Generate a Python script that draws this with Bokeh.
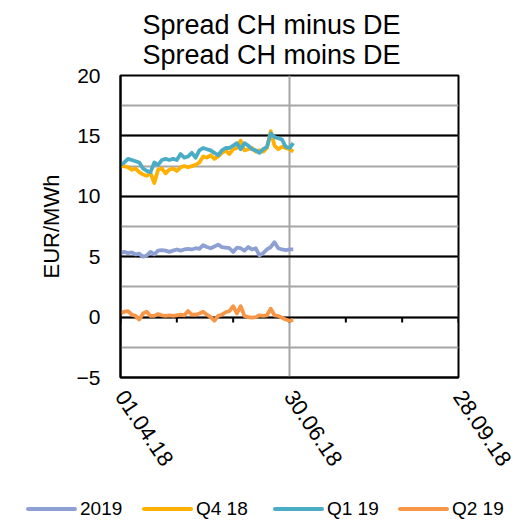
import pandas as pd
from bokeh.plotting import figure
from bokeh.layouts import column
from bokeh.models import (FixedTicker, SingleIntervalTicker, DatetimeTickFormatter,
                          Range1d, Title, ColumnDataSource, Div)
from bokeh.embed import file_html
from bokeh.resources import INLINE

# ---------------- data ----------------
title_text = "Spread CH minus DE\nSpread CH moins DE"
y_label = "EUR/MWh"
x_start = "2018-04-01"
x_end = "2018-09-28"
x_tick_dates = ["2018-04-01", "2018-06-30", "2018-09-28"]
x_minor_tick_dates = ["2018-04-01", "2018-05-01", "2018-05-31", "2018-06-30",
                      "2018-07-30", "2018-08-29", "2018-09-28"]
series_names = ["2019", "Q4 18", "Q1 19", "Q2 19"]

obs_dates = pd.date_range("2018-04-01", periods=47, freq="2D")

y2019 = [5.3, 5.4, 5.3, 5.35, 5.2, 5.25, 5.0, 5.1, 5.4, 5.2,
         5.5, 5.55, 5.5, 5.4, 5.5, 5.6, 5.5, 5.6, 5.65, 5.6,
         5.7, 5.65, 5.95, 5.8, 5.7, 5.85, 6.0, 5.8, 5.75, 5.7,
         5.4, 5.75, 5.7, 5.5, 5.8, 5.6, 5.7, 5.1, 5.3, 5.6,
         5.8, 6.2, 5.7, 5.6, 5.55, 5.6, 5.6]

q4_18 = [12.5, 12.5, 12.4, 12.2, 12.3, 12.0, 11.8, 11.7, 11.9, 11.1,
         12.2, 12.3, 11.9, 12.2, 12.3, 12.1, 12.4, 12.5, 12.4, 12.5,
         12.6, 12.8, 13.3, 13.2, 13.4, 13.1, 13.3, 13.6, 13.8, 13.5,
         13.9, 14.0, 14.6, 13.8, 13.9, 14.0, 13.7, 13.8, 13.7, 14.0,
         15.4, 14.2, 13.9, 14.1, 14.0, 13.9, 13.7]

q1_19 = [12.6, 12.8, 13.1, 13.0, 12.9, 12.8, 12.3, 12.1, 12.0, 12.8,
         12.6, 13.0, 13.1, 13.0, 13.1, 13.0, 13.5, 13.2, 13.3, 13.6,
         13.2, 13.8, 14.0, 13.9, 13.8, 13.6, 13.4, 13.8, 14.0, 14.0,
         14.2, 14.4, 13.9, 14.4, 14.2, 13.9, 13.8, 13.6, 13.9, 14.1,
         15.2, 14.9, 14.8, 14.7, 14.1, 14.0, 14.4]

q2_19 = [0.3, 0.45, 0.5, 0.2, 0.1, -0.2, 0.3, 0.45, 0.1, 0.1,
         0.25, 0.15, 0.1, 0.15, 0.1, 0.15, 0.2, 0.15, 0.5, 0.2,
         0.2, 0.3, 0.45, 0.2, 0.0, -0.3, 0.1, 0.2, 0.4, 0.5,
         0.9, 0.3, 0.9, 0.1, 0.0, -0.05, 0.0, 0.15, 0.1, 0.15,
         0.7, 0.15, 0.1, -0.05, -0.2, -0.3, -0.25]

colors = ["#8EA0D3", "#FFB000", "#4BACC6", "#F79646"]
FONT = "Liberation Sans"

# ---------------- main figure ----------------
p = figure(frame_width=338, frame_height=302, width=518, height=495,
           x_axis_type="datetime", output_backend="svg", toolbar_location=None,
           min_border_left=120, min_border_right=60, min_border_top=75,
           min_border_bottom=118)
p.x_range = Range1d(pd.Timestamp(x_start), pd.Timestamp(x_end))
p.y_range = Range1d(-5, 20)
p.background_fill_color = "white"
p.border_fill_color = "white"
p.outline_line_color = "black"
p.outline_line_width = 2

p.title = Title(text=title_text, align="left", offset=22, standoff=12,
                text_font=FONT, text_font_size="27px", text_font_style="normal",
                text_color="black")

tick_ms = [pd.Timestamp(d).value / 1e6 for d in x_tick_dates]
p.xaxis.ticker = FixedTicker(ticks=tick_ms)
p.xaxis.formatter = DatetimeTickFormatter(days="%d.%m.%y", months="%d.%m.%y",
                                          years="%d.%m.%y")
p.xaxis.major_label_orientation = -0.98
p.xaxis.major_tick_out = 0
p.xaxis.major_tick_in = 0
p.xaxis.minor_tick_out = 0
p.xaxis.minor_tick_in = 0
p.xaxis.major_label_standoff = 15
p.xaxis.axis_line_color = "black"
p.xaxis.axis_line_width = 2
p.xaxis.major_label_text_font = FONT
p.xaxis.major_label_text_font_size = "22px"
p.xaxis.major_label_text_color = "black"

p.yaxis.ticker = SingleIntervalTicker(interval=5, num_minor_ticks=2)
p.yaxis.major_tick_out = 0
p.yaxis.major_tick_in = 0
p.yaxis.minor_tick_out = 0
p.yaxis.minor_tick_in = 0
p.yaxis.major_label_standoff = 20
p.yaxis.axis_line_color = "black"
p.yaxis.axis_line_width = 2
p.yaxis.major_label_text_font = FONT
p.yaxis.major_label_text_font_size = "21px"
p.yaxis.major_label_text_color = "black"
p.yaxis.axis_label = y_label
p.yaxis.axis_label_text_font = FONT
p.yaxis.axis_label_text_font_size = "22px"
p.yaxis.axis_label_text_font_style = "normal"
p.yaxis.axis_label_text_color = "black"
p.yaxis.axis_label_standoff = 10

p.xgrid.ticker = FixedTicker(ticks=tick_ms)
p.xgrid.grid_line_color = "#A6A6A6"
p.xgrid.grid_line_width = 2
p.ygrid.grid_line_color = "black"
p.ygrid.grid_line_width = 2
p.ygrid.minor_grid_line_color = "#A6A6A6"
p.ygrid.minor_grid_line_width = 2

# tick marks on the zero line
minor_x = [pd.Timestamp(d) for d in x_minor_tick_dates]
p.segment(x0=minor_x, y0=[0] * len(minor_x), x1=minor_x, y1=[-0.45] * len(minor_x),
          line_color="black", line_width=2)

all_series = [y2019, q4_18, q1_19, q2_19]
for name, vals, col in zip(series_names, all_series, colors):
    src = ColumnDataSource(dict(x=obs_dates, y=vals))
    p.line("x", "y", source=src, line_color=col, line_width=3.8, line_join="round")

# ---------------- legend strip (HTML) ----------------
item_left = [26, 142, 273, 398]
parts = []
for name, col, left in zip(series_names, colors, item_left):
    parts.append(
        f'<div style="position:absolute;left:{left}px;top:12px;width:51px;'
        f'height:4px;border-radius:2px;background:{col};"></div>'
        f'<div style="position:absolute;left:{left + 54}px;top:2px;'
        f'line-height:24px;white-space:nowrap;">{name}</div>')
legend_html = ('<div style="position:relative;width:518px;height:26px;'
               "font-family:'Liberation Sans';font-size:19px;color:black;\">"
               + "".join(parts) + "</div>")
legend_div = Div(text=legend_html, width=518, height=26, margin=0)

layout = column(p, legend_div, spacing=0)
open("out.html", "w").write(file_html(layout, INLINE))
